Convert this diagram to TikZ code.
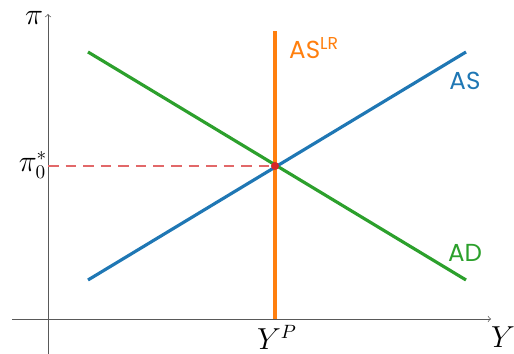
\documentclass[tikz,border=0pt]{standalone}
\usepackage{fontspec}
\newfontfamily\curvefont{Poppins}
\definecolor{asblue}{HTML}{1F77B4}
\definecolor{adgreen}{HTML}{2CA02C}
\definecolor{lrorange}{HTML}{FF7F0E}
\definecolor{eqred}{HTML}{D62728}
\tikzset{
	curve/.style={line width=1.8pt},
	curvelabel/.style={font=\curvefont\fontsize{14}{16}\selectfont},
	axislabel/.style={font=\fontsize{16}{18}\selectfont, inner sep=1pt}
}
\begin{document}
\begin{tikzpicture}[x=0.02cm, y=0.02cm]
		\useasboundingbox (0, 0) rectangle (514, 354);
		% axes
		\coordinate (O) at (48, 35);
		\coordinate (ybot) at (48, 0);
		\coordinate (ytop) at (48, 340);
		\coordinate (xleft) at (12, 35);
		\coordinate (xright) at (491, 35);
		\draw[gray!70!black, ->] (ybot) -- (ytop);
		\draw[gray!70!black, ->] (xleft) -- (xright);
		% curves
		\coordinate (as0) at (88, 74);
		\coordinate (as1) at (466, 302);
		\coordinate (ad0) at (88, 302);
		\coordinate (ad1) at (466, 74);
		\coordinate (lr0) at (275, 35);
		\coordinate (lr1) at (275, 323);
		\coordinate (E) at (275, 188);
		\coordinate (piaxis) at (48, 188);
		\draw[eqred!70, thick, dash pattern=on 6pt off 4pt] (piaxis) -- (E);
		\draw[curve, lrorange] (lr0) -- (lr1);
		\draw[curve, adgreen] (ad0) -- (ad1);
		\draw[curve, asblue] (as0) -- (as1);
		\fill[eqred] (E) circle (4);
		% labels
		\node[axislabel] (pi) at (34, 336) {$\pi$};
		\node[axislabel] (pistar) at (33, 189) {$\pi_0^*$};
		\node[axislabel] (YP) at (277, 17) {$Y^P$};
		\node[axislabel] (Y) at (503, 17) {$Y$};
		\node[curvelabel, lrorange, anchor=west] (LR) at (283, 306) {AS\textsuperscript{LR}};
		\node[curvelabel, asblue] (ASlab) at (465, 273) {AS};
		\node[curvelabel, adgreen] (ADlab) at (465, 101) {AD};
	\end{tikzpicture}
\end{document}
